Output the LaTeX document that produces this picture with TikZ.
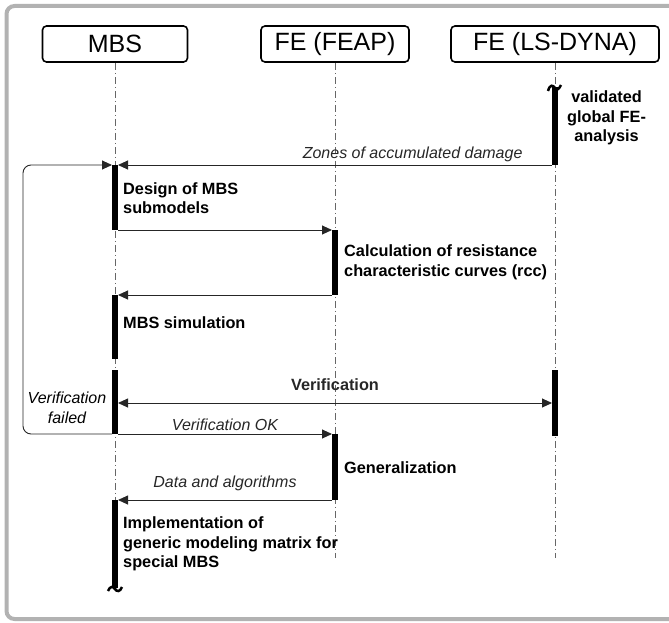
\documentclass[tikz,border=0pt]{standalone}
\usepackage{fontspec}
\setmainfont{Liberation Sans}
\usetikzlibrary{arrows.meta}

\tikzset{
	>={Triangle[length=10pt,width=9pt]},
	head/.style={draw, line width=1.6pt, rounded corners=4pt, minimum height=36pt, inner sep=0pt, font=\fontsize{25}{30}\selectfont},
	life/.style={black!60, line width=0.7pt, dash pattern=on 7pt off 3pt on 1pt off 3pt},
	msg/.style={->, line width=0.9pt, black!85},
	act/.style={anchor=west, align=left, inner sep=0pt, font=\bfseries\fontsize{16.3}{19.5}\selectfont},
	lbl/.style={inner sep=0pt, align=center, font=\itshape\fontsize{16}{19.5}\selectfont}
}

\begin{document}
\begin{tikzpicture}[x=1pt, y=-1pt]
	\useasboundingbox (0, 0) rectangle (669, 623);
	\clip (0, 0) rectangle (669, 623);
	\draw[line width=4pt, black!30, rounded corners=8pt] (6.5, 6) rectangle (700, 619); % Rahmen

	% Kopfzeile
	\node[head, minimum width=145pt] (mbs) at (115, 44) {MBS};
	\node[head, minimum width=148pt] (feap) at (335, 44) {FE (FEAP)};
	\node[head, minimum width=208pt] (dyna) at (555, 44) {FE (LS-DYNA)};

	% Lebenslinien
	\draw[life] (mbs.south) -- (115, 500);
	\draw[life] (feap.south) -- (335, 558);
	\draw[life] (dyna.south) -- (555, 558);

	% Aktivierungsbalken
	\fill (552, 87) rectangle (558, 165);
	\fill (112, 165) rectangle (118, 230);
	\fill (332, 230) rectangle (338, 295);
	\fill (112, 295) rectangle (118, 359);
	\fill (112, 370) rectangle (118, 434);
	\fill (552, 370) rectangle (558, 436);
	\fill (332, 434) rectangle (338, 500);
	\fill (112, 500) rectangle (118, 588);

	\draw[line width=2.5pt] (548, 91) .. controls (550, 84) and (553, 85) .. (555, 88) .. controls (557, 91) and (559, 89) .. (561, 85); % Anfang
	\draw[line width=2.5pt] (108, 591) .. controls (110, 586) and (113, 586) .. (115, 589) .. controls (117, 592) and (120, 592) .. (122, 587); % Ende

	% Punkte der Nachrichten
	\coordinate (dyna1) at (552, 165);
	\coordinate (mbs1r) at (118, 165);
	\coordinate (mbs1l) at (112, 165);
	\coordinate (mbs2) at (118, 230);
	\coordinate (feap1t) at (332, 230);
	\coordinate (feap1b) at (332, 295);
	\coordinate (mbs3) at (118, 295);
	\coordinate (mbs4) at (118, 403);
	\coordinate (dyna2) at (552, 403);
	\coordinate (mbs5r) at (118, 434);
	\coordinate (mbs5l) at (112, 434);
	\coordinate (feap2t) at (332, 434);
	\coordinate (feap2b) at (332, 500);
	\coordinate (mbs6) at (118, 500);

	% Nachrichten
	\draw[msg] (dyna1) -- node[pos=0.067, lbl, anchor=south east, yshift=3pt] (zones) {Zones of accumulated damage} (mbs1r);
	\draw[msg, rounded corners=8pt] (mbs5l) -- (23, 434) -- (23, 165) -- (mbs1l);
	\draw[msg] (mbs2) -- (feap1t);
	\draw[msg] (feap1b) -- (mbs3);
	\draw[msg, <->] (mbs4) -- node[above=12pt, lbl, font=\bfseries\fontsize{16.3}{19.5}\selectfont] (verif) {Verification} (dyna2);
	\draw[msg] (mbs5r) -- node[above=3pt, lbl] (ok) {Verification OK} (feap2t);
	\draw[msg] (feap2b) -- node[above=9pt, lbl] (data) {Data and algorithms} (mbs6);

	% Texte
	\node[act, align=center] (valid) at (567, 118) {validated\\global FE-\\analysis};
	\node[act] (design) at (123, 198) {Design of MBS\\submodels};
	\node[act] (calc) at (344, 262.5) {Calculation of resistance\\characteristic curves (rcc)};
	\node[act] (sim) at (123, 323) {MBS simulation};
	\node[lbl] (failed) at (67, 408) {Verification\\failed};
	\node[act] (gen) at (344, 468) {Generalization};
	\node[act] (impl) at (123, 544) {Implementation of\\generic modeling matrix for\\special MBS};
\end{tikzpicture}
\end{document}
